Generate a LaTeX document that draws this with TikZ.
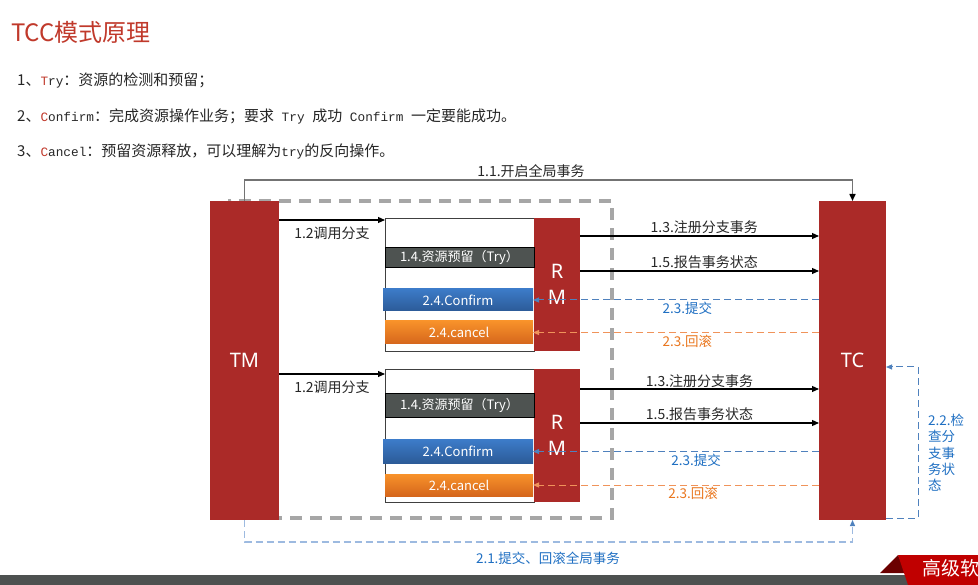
\documentclass[tikz,border=0pt]{standalone}
\usepackage{fontspec}
\setmainfont{Noto Sans}
\newfontfamily\cjk{Noto Sans CJK SC}
\newfontfamily\mono{Liberation Mono}[Scale=0.85]
\usetikzlibrary{arrows.meta}
\definecolor{tred}{HTML}{AB2A28}
\definecolor{titred}{HTML}{C0392B}
\definecolor{txt}{HTML}{262626}
\definecolor{boxgray}{HTML}{404040}
\definecolor{trygray}{HTML}{4E5351}
\definecolor{cbt}{HTML}{3C7BC8}
\definecolor{cbb}{HTML}{2C5B98}
\definecolor{cot}{HTML}{F8922A}
\definecolor{cob}{HTML}{D5661C}
\definecolor{dashgray}{HTML}{A6A6A6}
\definecolor{lblue}{HTML}{1F6FC2}
\definecolor{dblue}{HTML}{4F81BD}
\definecolor{lorange}{HTML}{E9761E}
\definecolor{dorange}{HTML}{F0935A}
\definecolor{ldash}{HTML}{9DBAE0}
\definecolor{barg}{HTML}{4D5150}
\definecolor{banred}{HTML}{C00000}
\definecolor{bandark}{HTML}{6B0000}
\begin{document}
\begin{tikzpicture}[x=1pt,y=-1pt,
  redbox/.style={fill=tred, text=white, inner sep=0pt, outer sep=0pt, font=\fontsize{20}{26}\selectfont, align=center},
  wbox/.style={draw=boxgray, line width=0.8pt, fill=white, inner sep=0pt, outer sep=0pt},
  trybox/.style={fill=trygray, draw=black, line width=0.8pt, text=white, inner sep=0pt, outer sep=0pt, font=\cjk\fontsize{13}{15}\selectfont},
  confbox/.style={top color=cbt, bottom color=cbb, text=white, inner sep=0pt, outer sep=0pt, font=\cjk\fontsize{13}{15}\selectfont},
  cancbox/.style={top color=cot, bottom color=cob, text=white, inner sep=0pt, outer sep=0pt, font=\cjk\fontsize{13}{15}\selectfont},
  lbl/.style={font=\cjk\fontsize{14}{16}\selectfont, inner sep=1pt, text=txt},
  blbl/.style={font=\cjk\fontsize{13.5}{16}\selectfont, inner sep=1pt, text=lblue},
  olbl/.style={font=\cjk\fontsize{13.5}{16}\selectfont, inner sep=1pt, text=lorange},
  litem/.style={anchor=west, inner sep=0pt, text=txt, font=\cjk\fontsize{15}{18}\selectfont},
  arr/.style={-{Triangle[length=7pt,width=6pt]}, line width=1.1pt, draw=black},
  barr/.style={-{Triangle[length=6pt,width=5pt]}, line width=1pt, dash pattern=on 7pt off 4pt, draw=dblue},
  oarr/.style={-{Triangle[length=6pt,width=5pt]}, line width=1pt, dash pattern=on 7pt off 4pt, draw=dorange},
]
\useasboundingbox (0,0) rectangle (978,585);

% title and list
\node[anchor=west, inner sep=0pt, text=titred, font=\cjk\fontsize{24}{28}\selectfont] (title) at (11,32) {TCC模式原理};
\node[litem] (l1) at (17,80) {1、{\mono\color{titred}T}{\mono ry}：资源的检测和预留；};
\node[litem] (l2) at (17,116) {2、{\mono\color{titred}C}{\mono onfirm}：完成资源操作业务；要求{\mono\ Try\ }成功{\mono\ Confirm\ }一定要能成功。};
\node[litem] (l3) at (17,151) {3、{\mono\color{titred}C}{\mono ancel}：预留资源释放，可以理解为{\mono try}的反向操作。};

% dashed scope
\node[draw=dashgray, line width=3.5pt, dash pattern=on 12pt off 8pt, minimum width=382pt, minimum height=317pt, inner sep=0pt] (scope) at (421,359.5) {};

% TM and TC
\node[redbox, minimum width=69pt, minimum height=319pt] (tm) at (244.5,360.5) {TM};
\node[redbox, minimum width=67pt, minimum height=319pt] (tc) at (852.5,360.5) {TC};

% upper branch
\node[wbox, minimum width=149pt, minimum height=133pt] (ub1) at (459.5,284.5) {};
\node[redbox, minimum width=46pt, minimum height=133pt] (rm1) at (557,284.5) {R\\M};
\node[trybox, minimum width=149pt, minimum height=20pt] (try1) at (459.5,257) {1.4.资源预留（Try）};
\node[confbox, minimum width=150pt, minimum height=22pt] (conf1) at (458,300) {2.4.Confirm};
\node[cancbox, minimum width=148pt, minimum height=23pt] (canc1) at (459,332.5) {2.4.cancel};

% lower branch
\node[wbox, minimum width=149pt, minimum height=133pt] (ub2) at (459.5,435.5) {};
\node[redbox, minimum width=46pt, minimum height=133pt] (rm2) at (557,435.5) {R\\M};
\node[trybox, minimum width=149pt, minimum height=24pt] (try2) at (459.5,405.5) {1.4.资源预留（Try）};
\node[confbox, minimum width=150pt, minimum height=23pt] (conf2) at (458,451.5) {2.4.Confirm};
\node[cancbox, minimum width=148pt, minimum height=22pt] (canc2) at (459,485) {2.4.cancel};

% 1.1
\coordinate (top11) at (548,180);
\draw[line width=1.5pt, draw=gray!90!black, -{Triangle[length=7pt,width=6pt,color=black]}] (tm.north) |- (top11) -| (tc.north);
\node[lbl] (t11) at (531,171) {1.1.开启全局事务};

% connection points
\coordinate (a12u) at (385,220);
\coordinate (r13u) at (580,236);
\coordinate (r15u) at (580,271);
\coordinate (a12l) at (385,374);
\coordinate (r13l) at (580,389);
\coordinate (r15l) at (580,423);

% upper arrows
\draw[arr] (tm.east |- a12u) -- (a12u) node[lbl, midway, below=5pt] {1.2调用分支};
\draw[arr] (r13u) -- (tc.west |- r13u) node[lbl, pos=0.52, above=1pt] {1.3.注册分支事务};
\draw[arr] (r15u) -- (tc.west |- r15u) node[lbl, pos=0.52, above=1pt] {1.5.报告事务状态};
\draw[barr] (tc.west |- conf1.east) -- (conf1.east) node[blbl, pos=0.46, below=1pt] {2.3.提交};
\draw[oarr] (tc.west |- canc1.east) -- (canc1.east) node[olbl, pos=0.46, below=1pt] {2.3.回滚};

% lower arrows
\draw[arr] (tm.east |- a12l) -- (a12l) node[lbl, midway, below=5pt] {1.2调用分支};
\draw[arr] (r13l) -- (tc.west |- r13l) node[lbl, pos=0.5, above=0pt] {1.3.注册分支事务};
\draw[arr] (r15l) -- (tc.west |- r15l) node[lbl, pos=0.5, above=1pt] {1.5.报告事务状态};
\draw[barr] (tc.west |- conf2.east) -- (conf2.east) node[blbl, pos=0.43, below=1pt] {2.3.提交};
\draw[oarr] (tc.west |- canc2.east) -- (canc2.east) node[olbl, pos=0.44, below=1pt] {2.3.回滚};

% 2.2 loop
\coordinate (c22) at (918,367);
\draw[barr] ([yshift=2pt]tc.south east) -| (c22) -- (tc.east |- c22);
\node[blbl, anchor=north west, align=left, font=\cjk\fontsize{13.5}{16.3}\selectfont] (t22) at (927,413) {2.2.检\\查分\\支事\\务状\\态};

% 2.1 loop
\coordinate (c21) at (548,542);
\draw[-{Triangle[length=6pt,width=5pt,color=dblue]}, line width=1.2pt, draw=ldash, dash pattern=on 7pt off 4pt] (tm.south) |- (c21) -| (tc.south);
\node[blbl] (t21) at (548,558) {2.1.提交、回滚全局事务};

% footer
\fill[barg] (0,575) rectangle (978,585);
\fill[bandark] (880,573) -- (898,555) -- (906,573) -- cycle;
\fill[banred] (898,555) -- (978,555) -- (978,585) -- (908,585) -- cycle;
\node[anchor=west, inner sep=0pt, text=white, font=\cjk\fontsize{19}{22}\selectfont] (ban) at (922,568) {高级软};
\end{tikzpicture}
\end{document}
